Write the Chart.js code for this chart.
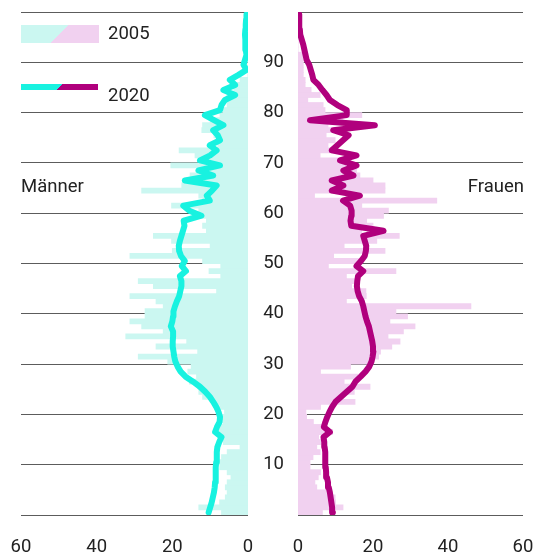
<!DOCTYPE html>
<html lang="de">
<head>
<meta charset="utf-8">
<title>Altersstruktur 2005 und 2020</title>
<script src="https://cdn.jsdelivr.net/npm/chart.js@4.4.1/dist/chart.umd.min.js"></script>
<style>
  html, body { margin: 0; padding: 0; background: #fff; overflow: hidden; }
  #wrap { position: relative; width: 534px; height: 556px; font-family: Roboto, "Noto Sans", sans-serif; color: #222; }
  canvas { position: absolute; top: 0; }
  #chartMen { left: 0; }
  #chartWomen { left: 262px; }
  .lbl { position: absolute; font-size: 18.5px; line-height: 20px; white-space: nowrap; }
  .sw { position: absolute; }
</style>
</head>
<body>
<div id="wrap">
  <canvas id="chartMen" width="262" height="556"></canvas>
  <canvas id="chartWomen" width="272" height="556"></canvas>
  <div class="sw" style="left:21px;top:25px;width:78px;height:18px;background:linear-gradient(135deg,#cbf7f1 50%,#f1d1f0 50%)"></div>
  <div class="lbl" style="left:108px;top:23px">2005</div>
  <div class="sw" style="left:21px;top:84px;width:77px;height:6px;background:linear-gradient(135deg,#18f2e0 50%,#b0007d 50%)"></div>
  <div class="lbl" style="left:108px;top:85px">2020</div>
  <div class="lbl" style="left:21px;top:176px">Männer</div>
  <div class="lbl" style="right:10px;top:176px">Frauen</div>
</div>
<script>
// Single years of age, 0 to 99 (each bar covers [age, age + 1])
const ages = Array.from({ length: 100 }, (_, i) => i);

// Männer 2005 (bars)
const men2005 = [
  7, 13, 7.5, 6, 5.5, 6, 5.5, 4.5, 5.5, 7.5, 8.5, 7, 5.5, 2.1, 6.5, 6.5, 8, 7.5, 6.5, 7, 6.2, 7.5, 9, 12, 13,
  13.2, 15.5, 13.6, 15.9, 15, 21.2, 29, 13.3, 24.3, 16.2, 32.3, 22.4, 28.1, 31.2, 27.2, 27.2, 22.4, 24.3, 31.2, 8.3, 25, 29, 7.2, 10.3, 7.2,
  12, 31.2, 20, 10, 20.2, 25, 11, 12, 11, 14, 13, 20.2, 12, 13, 28.1, 17.5, 12, 15.3, 13, 20.4, 12, 14, 18.2, 8, 7.4, 9, 12.2,
  12, 10, 7.4, 6.5, 5.5, 5.6, 5.6, 3.8, 3.4, 2.1, 0, 0, 0, 0, 0, 0, 0, 0, 0, 0, 0, 0, 0
];

// Männer 2020 (line)
const men2020 = [
  10.4, 10.0, 9.6, 9.3, 9.0, 8.8, 8.7, 8.6, 8.5, 8.5, 8.4, 8.3, 8.2, 8.1, 7.6, 7.0, 8.7, 8.2, 7.5, 7.4, 7.8, 8.4, 9.2, 10.1, 11.3,
  12.7, 14.5, 16.5, 17.8, 18.6, 19.2, 19.5, 19.7, 19.9, 19.9, 19.8, 19.8, 20.4, 20.0, 19.8, 19.7, 19.3, 18.8, 18.2, 17.9, 17.6, 17.6, 18.0, 16.4, 17.5,
  16.7, 17.7, 18.2, 18.3, 18, 17.6, 17.2, 16.8, 17.0, 12.3, 15.5, 17.1, 10.1, 10.9, 9.5, 8.3, 16.7, 9.2, 13.1, 7.4, 12.7, 10, 8.3, 10.1, 7.4, 8, 9.2,
  6.5, 9, 11.4, 7.4, 7, 6.1, 3.4, 6.5, 3.4, 4.8, 2.5, 0.4, 1.2, 0.8, 0.4, 0.6, 0.7, 0.7, 0.8, 0.7, 0.6, 0.5, 0.4
];

// Frauen 2005 (bars)
const women2005 = [
  6.5, 12, 10, 9.9, 8, 5, 4.5, 5.4, 6, 3.2, 3.2, 4, 5.9, 5, 6, 5.5, 9.2, 7, 4.1, 2.3, 2.1, 6, 15.2, 12, 15,
  19.2, 12.3, 16, 6, 14, 20, 21.5, 22, 25, 27.2, 24, 28.1, 31.2, 24.5, 29.2, 26.1, 46.1, 12.9, 18.2, 18.1, 14.3, 16, 12.9, 26.1, 8.1,
  17, 9.5, 23.2, 12.3, 21, 27, 17, 20, 18.3, 22.8, 24.1, 17, 37, 4.4, 23.2, 23.2, 20, 16.5, 15.6, 14, 13, 5.9, 10, 8, 9.9, 7.5, 9,
  8, 12, 17, 7.2, 6.7, 2.6, 5.9, 3.5, 1.9, 1.9, 1.4, 1.4, 1.4, 1.4, 1.2, 0, 0, 0, 0, 0, 0, 0, 0
];

// Frauen 2020 (line)
const women2020 = [
  9.3, 9.1, 8.9, 8.7, 8.5, 8.2, 8.0, 7.7, 7.5, 7.4, 7.3, 7.3, 7.2, 7.1, 7.0, 6.8, 8.5, 6.9, 7.3, 7.8, 8.4, 9.1, 10, 11.5, 13,
  14.5, 15.3, 16.7, 18, 19, 19.6, 19.9, 20.1, 20.0, 19.8, 19.5, 19.2, 18.9, 18.4, 18.0, 17.7, 17.4, 17.0, 16.3, 15.9, 15.7, 15.8, 16.0, 17.4, 15.6,
  16.8, 17.8, 18.1, 18.2, 17.8, 17.4, 22.8, 14.2, 14, 14.2, 14.3, 13.9, 12, 16.5, 9, 12.1, 9, 14.8, 12.1, 15.6, 11.2, 15.6, 9, 10.5, 12, 13.5, 9.4,
  20.5, 3.2, 13, 13, 10.5, 8.5, 7.6, 6.5, 5.5, 4.1, 3.8, 3.4, 3.0, 2.3, 2.0, 1.7, 1.4, 1.0, 0.6, 0.5, 0.4, 0.3, 0.3
];

// Axis ticks
const valueTicks = [0, 20, 40, 60];
const ageTicks = [10, 20, 30, 40, 50, 60, 70, 80, 90];

const COLORS = {
  men2005: '#cbf7f1',
  men2020: '#18f2e0',
  women2005: '#f1d1f0',
  women2020: '#b0007d',
  grid: '#5c5c5c',
  text: '#222222'
};

Chart.defaults.font.family = 'Roboto, "Noto Sans", sans-serif';
Chart.defaults.font.size = 18.5;
Chart.defaults.color = COLORS.text;

// value at the middle of each single-year band
function toPoints(values) {
  return values.map((v, i) => ({ x: v, y: ages[i] + 0.5 }));
}

function pyramidHalf(canvasId, bars, line, barColor, lineColor, isLeft) {
  return new Chart(document.getElementById(canvasId), {
    type: 'bar',
    data: {
      datasets: [
        {
          type: 'line',
          data: toPoints(line),
          borderColor: lineColor,
          borderWidth: 6,
          pointRadius: 0,
          tension: 0,
          borderJoinStyle: 'round',
          borderCapStyle: 'round',
          order: 0
        },
        {
          type: 'bar',
          data: toPoints(bars),
          backgroundColor: barColor,
          borderWidth: 0,
          barPercentage: 1,
          categoryPercentage: 1,
          inflateAmount: 0.4,
          order: 1
        }
      ]
    },
    options: {
      indexAxis: 'y',
      responsive: false,
      animation: false,
      events: [],
      layout: {
        padding: isLeft
          ? { left: 21, right: 14, top: 12, bottom: 0 }
          : { left: 0, right: 11, top: 12, bottom: 0 }
      },
      plugins: { legend: { display: false }, tooltip: { enabled: false } },
      scales: {
        x: {
          type: 'linear',
          min: valueTicks[0],
          max: valueTicks[valueTicks.length - 1],
          reverse: isLeft,
          grid: { display: false },
          border: { display: false },
          afterBuildTicks: s => { s.ticks = valueTicks.map(v => ({ value: v })); },
          ticks: { padding: 13, color: COLORS.text },
          afterFit: s => { s.height = 41; s.paddingLeft = 0; s.paddingRight = 0; }
        },
        y: {
          type: 'linear',
          position: 'left',
          min: 0,
          max: 100,
          offset: false,
          grid: { color: COLORS.grid, lineWidth: 1, drawTicks: false, offset: false },
          border: { display: false },
          ticks: {
            display: !isLeft,
            stepSize: 10,
            padding: 14,
            color: COLORS.text,
            callback: v => (ageTicks.includes(v) ? String(v) : '')
          },
          afterFit: s => { s.width = isLeft ? 0 : 36; s.paddingTop = 0; s.paddingBottom = 0; }
        }
      }
    }
  });
}

pyramidHalf('chartMen', men2005, men2020, COLORS.men2005, COLORS.men2020, true);
pyramidHalf('chartWomen', women2005, women2020, COLORS.women2005, COLORS.women2020, false);
</script>
</body>
</html>
